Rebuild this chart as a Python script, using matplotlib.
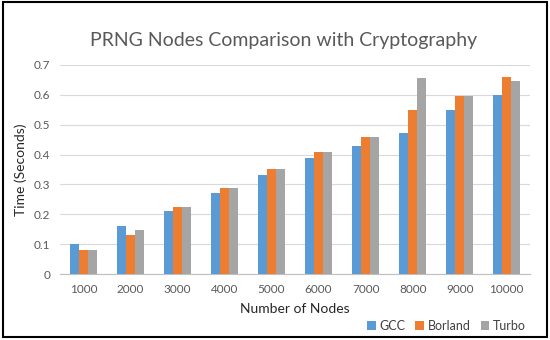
import matplotlib.pyplot as plt
import numpy as np
from matplotlib.patches import Rectangle

plt.rcParams['font.family'] = ['Lato', 'DejaVu Sans']

nodes = ['1000', '2000', '3000', '4000', '5000', '6000', '7000', '8000', '9000', '10000']
gcc = [0.10, 0.16, 0.21, 0.27, 0.333, 0.388, 0.428, 0.473, 0.55, 0.60]
borland = [0.082, 0.131, 0.226, 0.287, 0.35, 0.41, 0.46, 0.55, 0.597, 0.661]
turbo = [0.082, 0.148, 0.226, 0.287, 0.35, 0.41, 0.46, 0.657, 0.597, 0.645]

series = [('GCC', gcc, '#5B9BD5'), ('Borland', borland, '#ED7D31'), ('Turbo', turbo, '#A5A5A5')]

fig = plt.figure(figsize=(5.5, 3.4), dpi=100)
ax = fig.add_axes([0.109, 0.194, 0.855, 0.615])

x = np.arange(len(nodes))
w = 0.19
for i, (name, vals, color) in enumerate(series):
    ax.bar(x + (i - 1) * w, vals, w, color=color, label=name, zorder=3)

ax.set_xlim(-0.5, len(nodes) - 0.5)
ax.set_ylim(0, 0.7)
ax.set_yticks(np.arange(0, 0.71, 0.1))
ax.set_yticklabels(['0', '0.1', '0.2', '0.3', '0.4', '0.5', '0.6', '0.7'])
ax.set_xticks(x)
ax.set_xticklabels(nodes)
ax.yaxis.grid(True, color='#d9d9d9', linewidth=0.8, zorder=0)
for s in ['top', 'right', 'left']:
    ax.spines[s].set_visible(False)
ax.spines['bottom'].set_color('#bfbfbf')
ax.tick_params(axis='both', length=0, labelsize=8.5, colors='#595959', pad=7)

ax.set_ylabel('Time (Seconds)', fontsize=10, color='#262626', labelpad=5)
ax.set_xlabel('Number of Nodes', fontsize=10, color='#262626', labelpad=6)
fig.text(0.515, 0.88, 'PRNG Nodes Comparison with Cryptography', ha='center',
         va='center', fontsize=14, color='#595959')

ax.legend(loc='lower right', bbox_to_anchor=(1.015, -0.33), ncol=3, frameon=False,
          fontsize=9, handlelength=0.7, handleheight=0.7, handletextpad=0.3,
          columnspacing=0.8, labelcolor='#404040')

fig.patches.append(Rectangle((0.005, 0.008), 0.99, 0.985, transform=fig.transFigure,
                             fill=False, edgecolor='black', linewidth=1.5))

fig.savefig('out.png', dpi=100)
